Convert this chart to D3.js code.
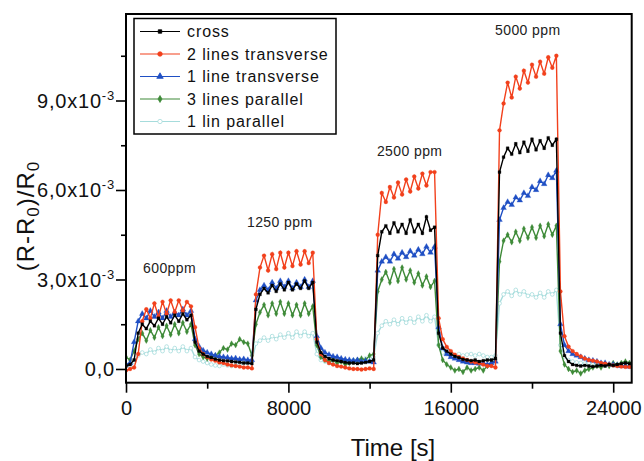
<!DOCTYPE html>
<html><head><meta charset="utf-8">
<script src="https://cdn.jsdelivr.net/npm/d3@7"></script>
<style>body{margin:0;background:#fff}</style>
</head><body>
<svg id="c" width="644" height="461"></svg>
<script>
// sample times [s]
const times = [0,200,400,600,800,1000,1200,1400,1600,1800,2000,2200,2400,2600,2800,3000,3200,3400,3600,3800,4000,4200,4400,4600,4800,5000,5200,5400,5600,5800,6000,6200,6400,6600,6800,7000,7200,7400,7600,7800,8000,8200,8400,8600,8800,9000,9200,9400,9600,9800,10000,10200,10400,10600,10800,11000,11200,11400,11600,11800,12000,12200,12400,12600,12800,13000,13200,13400,13600,13800,14000,14200,14400,14600,14800,15000,15200,15400,15600,15800,16000,16200,16400,16600,16800,17000,17200,17400,17600,17800,18000,18200,18400,18600,18800,19000,19200,19400,19600,19800,20000,20200,20400,20600,20800,21000,21200,21400,21600,21800,22000,22200,22400,22600,22800,23000,23200,23400,23600,23800,24000,24200,24400,24600,24800];

// (R-R0)/R0 values in units of 10^-3
const cross = [0.1,0.15,0.3,1.2,1.5,1.35,1.6,1.45,1.7,1.5,
1.75,1.55,1.8,1.6,1.85,1.65,1.8,0.9,0.6,0.5,
0.42,0.38,0.33,0.3,0.28,0.27,0.25,0.24,0.22,0.2,
0.2,0.18,2.0,2.5,2.7,2.55,2.8,2.6,2.85,2.65,
2.9,2.65,2.85,2.7,2.95,2.7,2.9,0.9,0.55,0.42,
0.35,0.3,0.28,0.25,0.22,0.2,0.2,0.18,0.2,0.22,
0.25,0.3,3.8,4.6,4.8,4.55,4.9,4.6,4.85,4.55,
5.0,4.6,4.85,4.55,5.1,4.65,4.75,1.2,0.7,0.6,
0.5,0.42,0.38,0.32,0.3,0.28,0.3,0.25,0.28,0.3,
0.3,0.35,6.6,7.1,7.4,7.2,7.55,7.25,7.6,7.3,
7.7,7.35,7.65,7.4,7.75,7.5,7.7,1.2,0.45,0.25,
0.15,0.12,0.1,0.12,0.1,0.08,0.1,0.12,0.1,0.15,
0.12,0.15,0.18,0.2,0.18];

const lines2Transverse = [-0.05,0.0,0.05,0.5,1.6,2.0,1.7,2.2,1.75,2.25,
1.85,2.3,1.9,2.3,1.95,2.25,2.1,1.4,0.7,0.5,
0.4,0.32,0.28,0.22,0.2,0.15,0.12,0.1,0.08,0.05,
0.05,0.02,2.5,3.4,3.8,3.3,3.85,3.35,3.9,3.4,
3.9,3.45,3.95,3.5,3.95,3.55,3.9,1.0,0.5,0.3,
0.2,0.15,0.1,0.08,0.05,0.02,0.0,0.0,-0.02,0.0,
0.02,0.0,4.5,5.9,5.6,6.1,5.75,6.25,5.85,6.35,
5.95,6.45,6.05,6.55,6.15,6.6,6.6,1.7,1.0,0.74,
0.6,0.48,0.4,0.35,0.3,0.25,0.22,0.2,0.15,0.1,
0.1,0.05,8.0,8.9,9.6,9.1,9.8,9.4,10.0,9.6,
10.2,9.8,10.3,9.9,10.45,10.1,10.5,2.6,1.1,0.75,
0.6,0.5,0.42,0.35,0.3,0.28,0.25,0.2,0.18,0.15,
0.12,0.1,0.08,0.07,0.07];

const line1Transverse = [0.15,0.2,0.9,1.6,1.85,1.7,1.95,1.75,1.9,1.7,
1.95,1.75,1.9,1.8,2.0,1.8,1.95,1.0,0.75,0.62,
0.55,0.5,0.45,0.42,0.4,0.38,0.35,0.36,0.32,0.33,
0.3,0.3,2.3,2.65,2.8,2.65,2.9,2.7,2.95,2.75,
2.95,2.7,2.9,2.75,3.0,2.75,2.95,1.1,0.7,0.55,
0.48,0.42,0.4,0.35,0.32,0.3,0.28,0.3,0.25,0.27,
0.25,0.22,3.3,3.6,3.75,3.6,3.85,3.7,3.9,3.75,
3.95,3.8,4.0,3.85,4.1,3.9,4.1,1.4,0.7,0.5,
0.4,0.35,0.3,0.25,0.22,0.2,0.2,0.18,0.2,0.15,
0.2,0.25,5.0,5.4,5.6,5.5,5.75,5.65,5.9,5.8,
6.1,6.0,6.3,6.2,6.5,6.4,6.65,1.5,0.8,0.6,
0.5,0.45,0.4,0.35,0.3,0.28,0.25,0.2,0.2,0.15,
0.15,0.12,0.1,0.1,0.08];

const lines3Parallel = [0.4,0.3,0.6,1.0,1.2,0.95,1.3,1.05,1.4,1.1,
1.45,1.15,1.5,1.2,1.55,1.25,1.5,0.8,0.5,0.4,
0.35,0.4,0.45,0.55,0.7,0.65,0.85,0.8,1.0,0.9,
0.85,0.45,1.5,1.9,2.15,1.8,2.2,1.85,2.25,1.85,
2.2,1.8,2.15,1.8,2.2,1.85,2.1,0.8,0.4,0.3,
0.25,0.3,0.2,0.25,0.15,0.2,0.25,0.3,0.35,0.3,
0.45,0.5,2.6,3.0,3.25,2.9,3.35,2.95,3.4,3.0,
3.3,2.9,3.2,2.8,3.1,2.75,2.95,0.8,0.3,0.15,
0.05,-0.05,0.0,-0.1,0.05,-0.05,0.0,0.05,-0.05,0.1,
0.2,0.3,3.6,4.3,4.5,4.25,4.6,4.3,4.7,4.4,
4.75,4.4,4.8,4.45,4.85,4.5,4.8,0.6,0.15,0.0,
-0.1,-0.05,-0.15,-0.05,0.0,0.05,0.1,0.05,0.15,0.1,
0.2,0.15,0.2,0.25,0.2];

const lin1Parallel = [0.15,0.1,0.25,0.45,0.55,0.5,0.65,0.55,0.7,0.6,
0.75,0.6,0.7,0.6,0.75,0.6,0.7,0.4,0.3,0.25,
0.2,0.15,0.12,0.1,0.15,0.12,0.1,0.12,0.15,0.2,
0.2,0.25,0.85,0.95,1.05,0.95,1.1,1.0,1.15,1.05,
1.2,1.05,1.25,1.1,1.25,1.1,1.2,0.5,0.3,0.25,
0.2,0.22,0.2,0.25,0.22,0.25,0.3,0.25,0.3,0.35,
0.35,0.4,1.2,1.45,1.6,1.5,1.65,1.5,1.7,1.55,
1.7,1.55,1.75,1.6,1.8,1.6,1.75,0.8,0.55,0.5,
0.48,0.45,0.5,0.45,0.48,0.5,0.45,0.5,0.45,0.4,
0.4,0.45,2.2,2.5,2.6,2.45,2.65,2.5,2.6,2.45,
2.5,2.4,2.55,2.4,2.6,2.5,2.65,0.8,0.4,0.3,
0.25,0.22,0.2,0.18,0.2,0.15,0.18,0.15,0.12,0.15,
0.12,0.1,0.12,0.1,0.1];

const seriesNames = ["cross","2 lines transverse","1 line transverse","3 lines parallel","1 lin parallel"];
const seriesValues = [cross, lines2Transverse, line1Transverse, lines3Parallel, lin1Parallel];
const concentrationLabels = ["600ppm","1250 ppm","2500 ppm","5000 ppm"];

const xTicks = [0, 8000, 16000, 24000];
const xMinorTicks = [4000, 12000, 20000];
const yTicks = [0, 3, 6, 9];          // x10^-3
const yMinorTicks = [1.5, 4.5, 7.5, 10.5];
const yTickLabels = ["0,0", "3,0x10", "6,0x10", "9,0x10"];

// ---- styling / layout ----
const colors = ["#000000", "#f2401c", "#1f4fc4", "#3e8a38", "#a6dcdc"];
const symbols = [d3.symbolSquare, d3.symbolCircle, d3.symbolTriangle, d3.symbolDiamond, d3.symbolCircle];
const symSize = [8, 12, 14, 10, 11];
const symFill = [true, true, true, true, false];
const font = "'Liberation Sans', Arial, sans-serif";

const svg = d3.select("#c");
const L = 126, R = 631.7, T = 14, B = 382.7;
const x = d3.scaleLinear().domain([0, 24911]).range([L, R]);
const y = d3.scaleLinear().domain([-0.46, 11.9]).range([B, T]);

svg.append("defs").append("clipPath").attr("id","clip")
  .append("rect").attr("x",L).attr("y",T).attr("width",R-L).attr("height",B-T);

const plot = svg.append("g").attr("clip-path","url(#clip)");
const order = [4,3,2,1,0];
order.forEach(si => {
  const vals = seriesValues[si];
  const pts = times.map((t,i) => [t, vals[i]]);
  const line = d3.line().x(d => x(d[0])).y(d => y(d[1]));
  plot.append("path").attr("d", line(pts)).attr("fill","none")
    .attr("stroke", colors[si]).attr("stroke-width", 1.4);
  const sym = d3.symbol().type(symbols[si]).size(symSize[si]);
  plot.append("g").selectAll("path").data(pts).join("path")
    .attr("transform", d => `translate(${x(d[0])},${y(d[1])})`)
    .attr("d", sym())
    .attr("fill", symFill[si] ? colors[si] : "#fff")
    .attr("stroke", colors[si]).attr("stroke-width", symFill[si] ? 0.3 : 0.8);
});

// frame
svg.append("rect").attr("x",L).attr("y",T).attr("width",R-L).attr("height",B-T)
  .attr("fill","none").attr("stroke","#000").attr("stroke-width",2);

// x axis
const xAxis = svg.append("g").attr("transform",`translate(0,${B})`)
  .call(d3.axisBottom(x).tickValues(xTicks).tickSize(10).tickPadding(8).tickFormat(d3.format("d")));
xAxis.select(".domain").remove();
xAxis.selectAll("line").attr("stroke-width",1.6);
xAxis.selectAll("text").attr("font-family",font).attr("font-size",20).attr("fill","#111");
const xMinor = svg.append("g").attr("transform",`translate(0,${B})`)
  .call(d3.axisBottom(x).tickValues(xMinorTicks).tickSize(6).tickFormat(""));
xMinor.select(".domain").remove();
xMinor.selectAll("line").attr("stroke-width",1.6);

// y axis
const yAxis = svg.append("g").attr("transform",`translate(${L},0)`)
  .call(d3.axisLeft(y).tickValues(yTicks).tickSize(10).tickPadding(1).tickFormat(""));
yAxis.select(".domain").remove();
yAxis.selectAll("line").attr("stroke-width",1.6);
yAxis.selectAll(".tick").each(function(d,i){
  const tx = d3.select(this).append("text").attr("x",-11).attr("dy","0.35em")
    .attr("text-anchor","end").attr("font-family",font).attr("font-size",20)
    .attr("fill","#111").attr("letter-spacing","0.8px");
  tx.append("tspan").text(yTickLabels[i]);
  if (d !== 0) tx.append("tspan").attr("font-size",13).attr("dy",-8).text("-3");
});
const yMinor = svg.append("g").attr("transform",`translate(${L},0)`)
  .call(d3.axisLeft(y).tickValues(yMinorTicks).tickSize(5).tickFormat(""));
yMinor.select(".domain").remove();
yMinor.selectAll("line").attr("stroke-width",1.6);

// axis titles
svg.append("text").attr("x",393).attr("y",456).attr("text-anchor","middle")
  .attr("font-family",font).attr("font-size",24).attr("fill","#111").text("Time [s]");
const yt = svg.append("text").attr("transform","translate(34,216) rotate(-90)")
  .attr("text-anchor","middle").attr("font-family",font).attr("font-size",24)
  .attr("fill","#111").attr("letter-spacing","1px");
yt.append("tspan").text("(R-R");
yt.append("tspan").attr("font-size",17).attr("dy",5).text("0");
yt.append("tspan").attr("dy",-5).text(")/R");
yt.append("tspan").attr("font-size",17).attr("dy",5).text("0");

// concentration annotations (data coords)
const annPos = [[840,3.22],[5960,4.76],[12360,7.14],[18180,11.2]];
concentrationLabels.forEach((s,i)=>{
  svg.append("text").attr("x",x(annPos[i][0])).attr("y",y(annPos[i][1]))
    .attr("font-family",font).attr("font-size",14).attr("fill","#222")
    .attr("letter-spacing","0.4px").text(s);
});

// legend
const lg = svg.append("g");
lg.append("rect").attr("x",134).attr("y",18.5).attr("width",202).attr("height",115.5)
  .attr("fill","#fff").attr("stroke","#000").attr("stroke-width",1.5);
seriesNames.forEach((n,i)=>{
  const yy = 31.5 + i*22.5;
  lg.append("line").attr("x1",140).attr("x2",180).attr("y1",yy).attr("y2",yy)
    .attr("stroke",colors[i]).attr("stroke-width",1.2);
  lg.append("path").attr("transform",`translate(160,${yy})`)
    .attr("d", d3.symbol().type(symbols[i]).size(symSize[i]+4)())
    .attr("fill", symFill[i] ? colors[i] : "#fff").attr("stroke",colors[i]).attr("stroke-width",0.8);
  lg.append("text").attr("x",187).attr("y",yy).attr("dy","0.35em")
    .attr("font-family",font).attr("font-size",16).attr("letter-spacing","0.9px")
    .attr("fill","#111").text(n);
});
</script>
</body></html>
